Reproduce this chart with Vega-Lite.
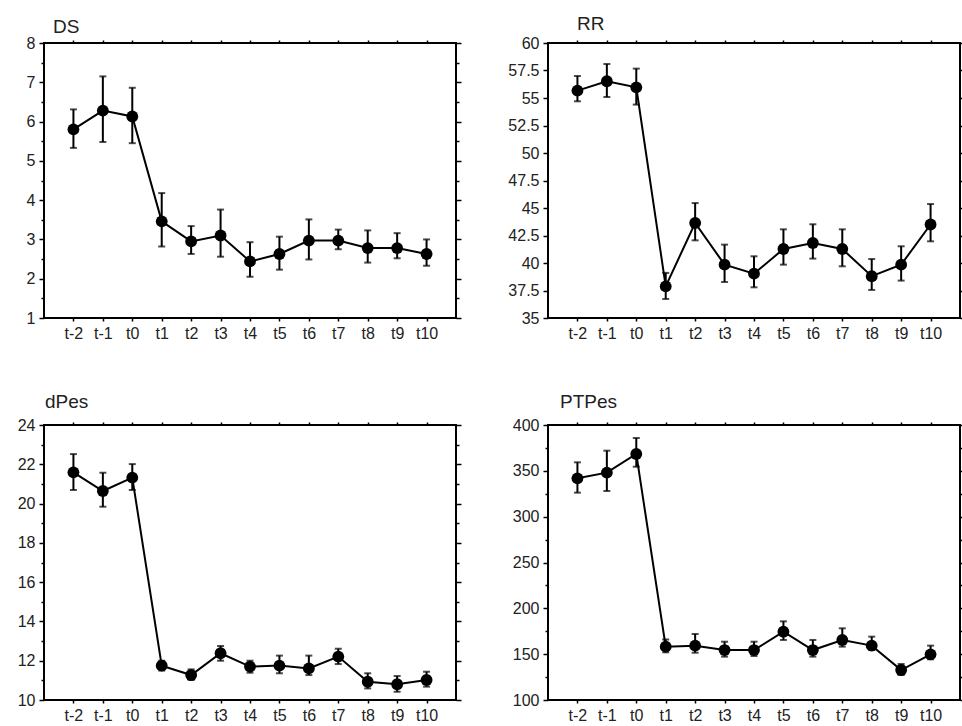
{
  "$schema": "https://vega.github.io/schema/vega-lite/v6.json",
  "autosize": {"type": "pad"},
  "padding": {"left": 16, "top": 14, "right": 0, "bottom": 0},
  "background": "white",
  "config": {
    "view": {"stroke": "black", "strokeWidth": 2},
    "axis": {"grid": false, "labelFont": "Liberation Sans", "labelFontSize": 16, "labelColor": "#222", "tickColor": "black", "tickWidth": 1.5, "domain": false, "title": null},
    "title": {"font": "Liberation Sans", "fontSize": 19, "fontWeight": "normal", "color": "#222", "anchor": "start", "frame": "group"}
  },
  "datasets": {
    "d": [
      {"panel": "DS", "t": "t-2", "i": 0, "mean": 5.80, "lo": 5.33, "hi": 6.31},
      {"panel": "DS", "t": "t-1", "i": 1, "mean": 6.28, "lo": 5.48, "hi": 7.15},
      {"panel": "DS", "t": "t0", "i": 2, "mean": 6.13, "lo": 5.45, "hi": 6.86},
      {"panel": "DS", "t": "t1", "i": 3, "mean": 3.46, "lo": 2.82, "hi": 4.18},
      {"panel": "DS", "t": "t2", "i": 4, "mean": 2.95, "lo": 2.63, "hi": 3.34},
      {"panel": "DS", "t": "t3", "i": 5, "mean": 3.10, "lo": 2.56, "hi": 3.76},
      {"panel": "DS", "t": "t4", "i": 6, "mean": 2.44, "lo": 2.05, "hi": 2.93},
      {"panel": "DS", "t": "t5", "i": 7, "mean": 2.63, "lo": 2.23, "hi": 3.07},
      {"panel": "DS", "t": "t6", "i": 8, "mean": 2.97, "lo": 2.49, "hi": 3.51},
      {"panel": "DS", "t": "t7", "i": 9, "mean": 2.97, "lo": 2.75, "hi": 3.25},
      {"panel": "DS", "t": "t8", "i": 10, "mean": 2.78, "lo": 2.41, "hi": 3.23},
      {"panel": "DS", "t": "t9", "i": 11, "mean": 2.78, "lo": 2.52, "hi": 3.16},
      {"panel": "DS", "t": "t10", "i": 12, "mean": 2.63, "lo": 2.33, "hi": 3.00},
      {"panel": "RR", "t": "t-2", "i": 0, "mean": 55.67, "lo": 54.7, "hi": 57.0},
      {"panel": "RR", "t": "t-1", "i": 1, "mean": 56.52, "lo": 55.09, "hi": 58.09},
      {"panel": "RR", "t": "t0", "i": 2, "mean": 55.97, "lo": 54.4, "hi": 57.67},
      {"panel": "RR", "t": "t1", "i": 3, "mean": 37.88, "lo": 36.73, "hi": 39.1},
      {"panel": "RR", "t": "t2", "i": 4, "mean": 43.64, "lo": 42.06, "hi": 45.45},
      {"panel": "RR", "t": "t3", "i": 5, "mean": 39.85, "lo": 38.27, "hi": 41.67},
      {"panel": "RR", "t": "t4", "i": 6, "mean": 39.03, "lo": 37.79, "hi": 40.61},
      {"panel": "RR", "t": "t5", "i": 7, "mean": 41.27, "lo": 39.85, "hi": 43.06},
      {"panel": "RR", "t": "t6", "i": 8, "mean": 41.82, "lo": 40.4, "hi": 43.52},
      {"panel": "RR", "t": "t7", "i": 9, "mean": 41.27, "lo": 39.7, "hi": 43.06},
      {"panel": "RR", "t": "t8", "i": 10, "mean": 38.8, "lo": 37.55, "hi": 40.36},
      {"panel": "RR", "t": "t9", "i": 11, "mean": 39.85, "lo": 38.4, "hi": 41.52},
      {"panel": "RR", "t": "t10", "i": 12, "mean": 43.5, "lo": 41.97, "hi": 45.36},
      {"panel": "dPes", "t": "t-2", "i": 0, "mean": 21.59, "lo": 20.69, "hi": 22.52},
      {"panel": "dPes", "t": "t-1", "i": 1, "mean": 20.64, "lo": 19.84, "hi": 21.57},
      {"panel": "dPes", "t": "t0", "i": 2, "mean": 21.32, "lo": 20.69, "hi": 22.01},
      {"panel": "dPes", "t": "t1", "i": 3, "mean": 11.75, "lo": 11.5, "hi": 12.0},
      {"panel": "dPes", "t": "t2", "i": 4, "mean": 11.27, "lo": 11.02, "hi": 11.56},
      {"panel": "dPes", "t": "t3", "i": 5, "mean": 12.38, "lo": 12.0, "hi": 12.75},
      {"panel": "dPes", "t": "t4", "i": 6, "mean": 11.7, "lo": 11.39, "hi": 12.0},
      {"panel": "dPes", "t": "t5", "i": 7, "mean": 11.75, "lo": 11.36, "hi": 12.26},
      {"panel": "dPes", "t": "t6", "i": 8, "mean": 11.61, "lo": 11.27, "hi": 12.26},
      {"panel": "dPes", "t": "t7", "i": 9, "mean": 12.21, "lo": 11.83, "hi": 12.61},
      {"panel": "dPes", "t": "t8", "i": 10, "mean": 10.93, "lo": 10.59, "hi": 11.36},
      {"panel": "dPes", "t": "t9", "i": 11, "mean": 10.8, "lo": 10.42, "hi": 11.22},
      {"panel": "dPes", "t": "t10", "i": 12, "mean": 11.02, "lo": 10.68, "hi": 11.44},
      {"panel": "PTPes", "t": "t-2", "i": 0, "mean": 341.8, "lo": 326.2, "hi": 359.3},
      {"panel": "PTPes", "t": "t-1", "i": 1, "mean": 348, "lo": 328, "hi": 372},
      {"panel": "PTPes", "t": "t0", "i": 2, "mean": 368.4, "lo": 354.5, "hi": 385.8},
      {"panel": "PTPes", "t": "t1", "i": 3, "mean": 158.2, "lo": 152, "hi": 166},
      {"panel": "PTPes", "t": "t2", "i": 4, "mean": 159.3, "lo": 151.6, "hi": 172},
      {"panel": "PTPes", "t": "t3", "i": 5, "mean": 154.5, "lo": 147.3, "hi": 163.6},
      {"panel": "PTPes", "t": "t4", "i": 6, "mean": 154.5, "lo": 148, "hi": 163.6},
      {"panel": "PTPes", "t": "t5", "i": 7, "mean": 174.5, "lo": 165.5, "hi": 185.8},
      {"panel": "PTPes", "t": "t6", "i": 8, "mean": 154.5, "lo": 147.3, "hi": 165.5},
      {"panel": "PTPes", "t": "t7", "i": 9, "mean": 165.5, "lo": 158.2, "hi": 178.2},
      {"panel": "PTPes", "t": "t8", "i": 10, "mean": 159.3, "lo": 154.5, "hi": 169.1},
      {"panel": "PTPes", "t": "t9", "i": 11, "mean": 132.7, "lo": 127.3, "hi": 139.3},
      {"panel": "PTPes", "t": "t10", "i": 12, "mean": 149.8, "lo": 144.4, "hi": 159.3}
    ]
  },
  "data": {"name": "d"},
  "columns": 2,
  "bounds": "flush",
  "spacing": {"row": 107, "column": 92},
  "concat": [
    {
      "width": 412, "height": 275,
      "title": {"text": "DS", "dx": 9, "offset": -2},
      "transform": [{"filter": "datum.panel === 'DS'"}],
      "layer": [
        {"mark": {"type": "rule", "color": "black", "strokeWidth": 2},
         "encoding": {
           "x": {"field": "t", "type": "ordinal", "sort": ["t-2","t-1","t0","t1","t2","t3","t4","t5","t6","t7","t8","t9","t10"], "scale": {"type": "point", "padding": 1.45}, "axis": {"orient": "bottom", "labelAngle": 0, "tickSize": 3, "labelPadding": 4}},
           "y": {"field": "lo", "type": "quantitative", "scale": {"domain": [1, 8], "nice": false, "zero": false}, "axis": {"orient": "left", "values": [1,2,3,4,5,6,7,8], "tickSize": 5, "format": ".1~f", "labelPadding": 4}},
           "y2": {"field": "hi"}}},
        {"mark": {"type": "tick", "color": "black", "size": 7, "thickness": 2},
         "encoding": {
           "x": {"field": "t", "type": "ordinal", "sort": ["t-2","t-1","t0","t1","t2","t3","t4","t5","t6","t7","t8","t9","t10"], "axis": {"orient": "top", "labels": false, "tickSize": 3}},
           "y": {"field": "lo", "type": "quantitative", "axis": {"orient": "left", "values": [1.5,2.5,3.5,4.5,5.5,6.5,7.5], "labels": false, "tickSize": 3}}}},
        {"mark": {"type": "tick", "color": "black", "size": 7, "thickness": 2},
         "encoding": {
           "x": {"field": "t", "type": "ordinal", "sort": ["t-2","t-1","t0","t1","t2","t3","t4","t5","t6","t7","t8","t9","t10"], "axis": null},
           "y": {"field": "hi", "type": "quantitative", "axis": {"orient": "right", "values": [1,2,3,4,5,6,7,8], "labels": false, "tickSize": 5}}}},
        {"mark": {"type": "line", "color": "black", "strokeWidth": 2},
         "encoding": {
           "x": {"field": "t", "type": "ordinal", "sort": ["t-2","t-1","t0","t1","t2","t3","t4","t5","t6","t7","t8","t9","t10"], "axis": null},
           "y": {"field": "mean", "type": "quantitative", "axis": {"orient": "right", "values": [1.5,2.5,3.5,4.5,5.5,6.5,7.5], "labels": false, "tickSize": 3}},
           "order": {"field": "i", "type": "quantitative"}}},
        {"mark": {"type": "point", "filled": true, "color": "black", "size": 140, "opacity": 1},
         "encoding": {
           "x": {"field": "t", "type": "ordinal", "sort": ["t-2","t-1","t0","t1","t2","t3","t4","t5","t6","t7","t8","t9","t10"], "axis": null},
           "y": {"field": "mean", "type": "quantitative", "axis": null}}}
      ],
      "resolve": {"axis": {"x": "independent", "y": "independent"}}
    },
    {
      "width": 412, "height": 275,
      "title": {"text": "RR", "dx": 29, "offset": 1},
      "transform": [{"filter": "datum.panel === 'RR'"}],
      "layer": [
        {"mark": {"type": "rule", "color": "black", "strokeWidth": 2},
         "encoding": {
           "x": {"field": "t", "type": "ordinal", "sort": ["t-2","t-1","t0","t1","t2","t3","t4","t5","t6","t7","t8","t9","t10"], "scale": {"type": "point", "padding": 1.45}, "axis": {"orient": "bottom", "labelAngle": 0, "tickSize": 3, "labelPadding": 4}},
           "y": {"field": "lo", "type": "quantitative", "scale": {"domain": [35, 60], "nice": false, "zero": false}, "axis": {"orient": "left", "values": [35,37.5,40,42.5,45,47.5,50,52.5,55,57.5,60], "tickSize": 5, "format": ".1~f", "labelPadding": 4}},
           "y2": {"field": "hi"}}},
        {"mark": {"type": "tick", "color": "black", "size": 7, "thickness": 2},
         "encoding": {
           "x": {"field": "t", "type": "ordinal", "sort": ["t-2","t-1","t0","t1","t2","t3","t4","t5","t6","t7","t8","t9","t10"], "axis": {"orient": "top", "labels": false, "tickSize": 3}},
           "y": {"field": "lo", "type": "quantitative", "axis": null}}},
        {"mark": {"type": "tick", "color": "black", "size": 7, "thickness": 2},
         "encoding": {
           "x": {"field": "t", "type": "ordinal", "sort": ["t-2","t-1","t0","t1","t2","t3","t4","t5","t6","t7","t8","t9","t10"], "axis": null},
           "y": {"field": "hi", "type": "quantitative", "axis": {"orient": "right", "values": [35,37.5,40,42.5,45,47.5,50,52.5,55,57.5,60], "labels": false, "tickSize": 5}}}},
        {"mark": {"type": "line", "color": "black", "strokeWidth": 2},
         "encoding": {
           "x": {"field": "t", "type": "ordinal", "sort": ["t-2","t-1","t0","t1","t2","t3","t4","t5","t6","t7","t8","t9","t10"], "axis": null},
           "y": {"field": "mean", "type": "quantitative", "axis": null},
           "order": {"field": "i", "type": "quantitative"}}},
        {"mark": {"type": "point", "filled": true, "color": "black", "size": 140, "opacity": 1},
         "encoding": {
           "x": {"field": "t", "type": "ordinal", "sort": ["t-2","t-1","t0","t1","t2","t3","t4","t5","t6","t7","t8","t9","t10"], "axis": null},
           "y": {"field": "mean", "type": "quantitative", "axis": null}}}
      ],
      "resolve": {"axis": {"x": "independent", "y": "independent"}}
    },
    {
      "width": 412, "height": 275,
      "title": {"text": "dPes", "dx": 1, "offset": 5},
      "transform": [{"filter": "datum.panel === 'dPes'"}],
      "layer": [
        {"mark": {"type": "rule", "color": "black", "strokeWidth": 2},
         "encoding": {
           "x": {"field": "t", "type": "ordinal", "sort": ["t-2","t-1","t0","t1","t2","t3","t4","t5","t6","t7","t8","t9","t10"], "scale": {"type": "point", "padding": 1.45}, "axis": {"orient": "bottom", "labelAngle": 0, "tickSize": 3, "labelPadding": 4}},
           "y": {"field": "lo", "type": "quantitative", "scale": {"domain": [10, 24], "nice": false, "zero": false}, "axis": {"orient": "left", "values": [10,12,14,16,18,20,22,24], "tickSize": 5, "format": ".1~f", "labelPadding": 4}},
           "y2": {"field": "hi"}}},
        {"mark": {"type": "tick", "color": "black", "size": 7, "thickness": 2},
         "encoding": {
           "x": {"field": "t", "type": "ordinal", "sort": ["t-2","t-1","t0","t1","t2","t3","t4","t5","t6","t7","t8","t9","t10"], "axis": {"orient": "top", "labels": false, "tickSize": 3}},
           "y": {"field": "lo", "type": "quantitative", "axis": {"orient": "left", "values": [11,13,15,17,19,21,23], "labels": false, "tickSize": 3}}}},
        {"mark": {"type": "tick", "color": "black", "size": 7, "thickness": 2},
         "encoding": {
           "x": {"field": "t", "type": "ordinal", "sort": ["t-2","t-1","t0","t1","t2","t3","t4","t5","t6","t7","t8","t9","t10"], "axis": null},
           "y": {"field": "hi", "type": "quantitative", "axis": {"orient": "right", "values": [10,12,14,16,18,20,22,24], "labels": false, "tickSize": 5}}}},
        {"mark": {"type": "line", "color": "black", "strokeWidth": 2},
         "encoding": {
           "x": {"field": "t", "type": "ordinal", "sort": ["t-2","t-1","t0","t1","t2","t3","t4","t5","t6","t7","t8","t9","t10"], "axis": null},
           "y": {"field": "mean", "type": "quantitative", "axis": {"orient": "right", "values": [11,13,15,17,19,21,23], "labels": false, "tickSize": 3}},
           "order": {"field": "i", "type": "quantitative"}}},
        {"mark": {"type": "point", "filled": true, "color": "black", "size": 140, "opacity": 1},
         "encoding": {
           "x": {"field": "t", "type": "ordinal", "sort": ["t-2","t-1","t0","t1","t2","t3","t4","t5","t6","t7","t8","t9","t10"], "axis": null},
           "y": {"field": "mean", "type": "quantitative", "axis": null}}}
      ],
      "resolve": {"axis": {"x": "independent", "y": "independent"}}
    },
    {
      "width": 412, "height": 275,
      "title": {"text": "PTPes", "dx": 12, "offset": 5},
      "transform": [{"filter": "datum.panel === 'PTPes'"}],
      "layer": [
        {"mark": {"type": "rule", "color": "black", "strokeWidth": 2},
         "encoding": {
           "x": {"field": "t", "type": "ordinal", "sort": ["t-2","t-1","t0","t1","t2","t3","t4","t5","t6","t7","t8","t9","t10"], "scale": {"type": "point", "padding": 1.45}, "axis": {"orient": "bottom", "labelAngle": 0, "tickSize": 3, "labelPadding": 4}},
           "y": {"field": "lo", "type": "quantitative", "scale": {"domain": [100, 400], "nice": false, "zero": false}, "axis": {"orient": "left", "values": [100,150,200,250,300,350,400], "tickSize": 5, "format": ".1~f", "labelPadding": 4}},
           "y2": {"field": "hi"}}},
        {"mark": {"type": "tick", "color": "black", "size": 7, "thickness": 2},
         "encoding": {
           "x": {"field": "t", "type": "ordinal", "sort": ["t-2","t-1","t0","t1","t2","t3","t4","t5","t6","t7","t8","t9","t10"], "axis": {"orient": "top", "labels": false, "tickSize": 3}},
           "y": {"field": "lo", "type": "quantitative", "axis": {"orient": "left", "values": [125,175,225,275,325,375], "labels": false, "tickSize": 3}}}},
        {"mark": {"type": "tick", "color": "black", "size": 7, "thickness": 2},
         "encoding": {
           "x": {"field": "t", "type": "ordinal", "sort": ["t-2","t-1","t0","t1","t2","t3","t4","t5","t6","t7","t8","t9","t10"], "axis": null},
           "y": {"field": "hi", "type": "quantitative", "axis": {"orient": "right", "values": [100,150,200,250,300,350,400], "labels": false, "tickSize": 5}}}},
        {"mark": {"type": "line", "color": "black", "strokeWidth": 2},
         "encoding": {
           "x": {"field": "t", "type": "ordinal", "sort": ["t-2","t-1","t0","t1","t2","t3","t4","t5","t6","t7","t8","t9","t10"], "axis": null},
           "y": {"field": "mean", "type": "quantitative", "axis": {"orient": "right", "values": [125,175,225,275,325,375], "labels": false, "tickSize": 3}},
           "order": {"field": "i", "type": "quantitative"}}},
        {"mark": {"type": "point", "filled": true, "color": "black", "size": 140, "opacity": 1},
         "encoding": {
           "x": {"field": "t", "type": "ordinal", "sort": ["t-2","t-1","t0","t1","t2","t3","t4","t5","t6","t7","t8","t9","t10"], "axis": null},
           "y": {"field": "mean", "type": "quantitative", "axis": null}}}
      ],
      "resolve": {"axis": {"x": "independent", "y": "independent"}}
    }
  ]
}
